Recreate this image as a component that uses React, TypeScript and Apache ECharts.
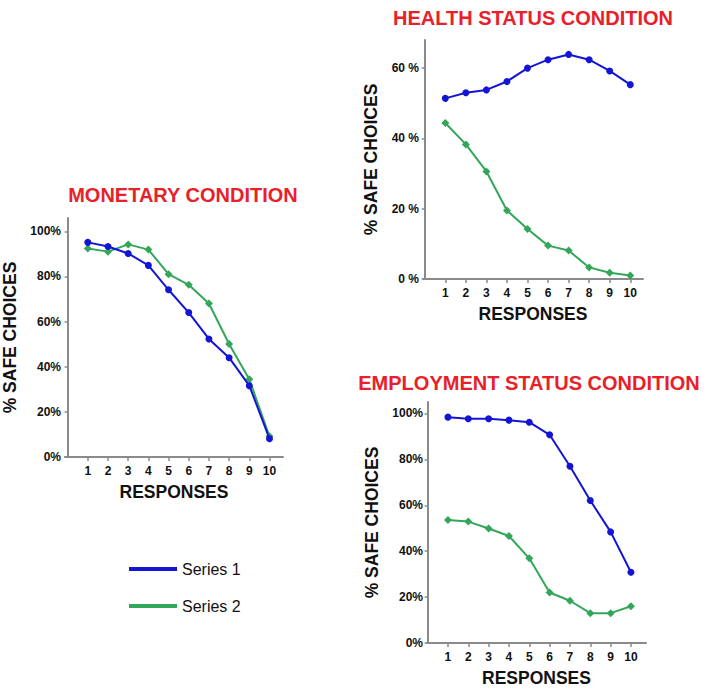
import React, { useEffect, useRef } from "react";
import * as echarts from "echarts";

const responses = [1, 2, 3, 4, 5, 6, 7, 8, 9, 10];

const monetarySeries1 = [95.1, 93.3, 90.2, 84.9, 74.1, 64.0, 52.3, 44.0, 31.6, 8.1];
const monetarySeries2 = [92.4, 91.0, 94.2, 91.9, 81.0, 76.3, 68.0, 50.1, 34.4, 9.2];

const healthSeries1 = [51.4, 53.0, 53.8, 56.2, 60.0, 62.4, 63.9, 62.4, 59.2, 55.3];
const healthSeries2 = [44.4, 38.3, 30.6, 19.5, 14.2, 9.5, 8.1, 3.3, 1.8, 1.0];

const employmentSeries1 = [98.4, 97.7, 97.7, 97.1, 96.2, 90.7, 77.0, 62.1, 48.4, 30.8];
const employmentSeries2 = [53.6, 52.9, 49.9, 46.6, 36.9, 22.0, 18.4, 13.0, 13.0, 16.0];

const titles = ["MONETARY CONDITION", "HEALTH STATUS CONDITION", "EMPLOYMENT STATUS CONDITION"];
const seriesNames = ["Series 1", "Series 2"];

const BLUE = "#1414d4";
const GREEN = "#34a659";
const RED = "#e8202a";
const AXIS = "#8a8a8a";
const FONT = "Liberation Sans, Arial, sans-serif";

export default function App() {
  const ref = useRef<HTMLDivElement>(null);
  useEffect(() => {
    if (!ref.current) return;
    const chart = echarts.init(ref.current, null, { renderer: "svg" });

    const grids = [
      { left: 61, top: 218, width: 222, height: 239 },
      { left: 423, top: 40, width: 220, height: 239 },
      { left: 427, top: 402, width: 219, height: 241 },
    ];
    const xRanges = [
      [-0.13, 10.67],
      [-0.085, 10.62],
      [-0.03, 10.74],
    ];
    const yMax = [105.9, 68, 105];
    const yFmt = ["{value}%", "{value} %", "{value}%"];
    const yNameGap = [46, 43, 46];
    const data = [
      [monetarySeries1, monetarySeries2],
      [healthSeries1, healthSeries2],
      [employmentSeries1, employmentSeries2],
    ];

    const xAxis = grids.map((_, i) => ({
      type: "value",
      gridIndex: i,
      min: xRanges[i][0],
      max: xRanges[i][1],
      splitLine: { show: false },
      axisLine: { show: true, lineStyle: { color: AXIS, width: 2 } },
      axisTick: {
        show: true,
        customValues: responses,
        length: 4,
        lineStyle: { color: AXIS, width: 1.5 },
      },
      axisLabel: {
        customValues: responses,
        color: "#111",
        fontWeight: "bold",
        fontSize: 12,
        fontFamily: FONT,
        margin: 8,
      },
      name: "RESPONSES",
      nameLocation: "middle",
      nameGap: 26,
      nameTextStyle: { color: "#111", fontWeight: "bold", fontSize: 17.5, fontFamily: FONT },
    }));

    const yAxis = grids.map((_, i) => ({
      type: "value",
      gridIndex: i,
      min: 0,
      max: yMax[i],
      interval: 20,
      splitLine: { show: false },
      axisLine: { show: true, lineStyle: { color: AXIS, width: 2 } },
      axisTick: { show: true, length: 3, lineStyle: { color: AXIS, width: 1.5 } },
      axisLabel: {
        formatter: yFmt[i],
        color: "#111",
        fontWeight: "bold",
        fontSize: 12,
        fontFamily: FONT,
        margin: 4,
        showMaxLabel: false,
      },
      name: "% SAFE CHOICES",
      nameLocation: "middle",
      nameGap: yNameGap[i],
      nameRotate: 90,
      nameTextStyle: { color: "#111", fontWeight: "bold", fontSize: 17.5, fontFamily: FONT },
    }));

    const series: any[] = [];
    data.forEach((pair, i) => {
      pair.forEach((vals, s) => {
        series.push({
          type: "line",
          name: seriesNames[s],
          xAxisIndex: i,
          yAxisIndex: i,
          data: responses.map((r, k) => [r, vals[k]]),
          symbol: s === 0 ? "circle" : "diamond",
          symbolSize: s === 0 ? 7 : 8,
          lineStyle: { color: s === 0 ? BLUE : GREEN, width: 2 },
          itemStyle: { color: s === 0 ? BLUE : GREEN },
          z: s === 0 ? 3 : 2,
        });
      });
    });

    const titleOpts = [
      { text: titles[0], left: 178, top: 180 },
      { text: titles[1], left: 528, top: 3 },
      { text: titles[2], left: 524, top: 368 },
    ].map((t) => ({
      text: t.text,
      left: t.left,
      top: t.top,
      textAlign: "center",
      textStyle: { color: RED, fontWeight: "bold", fontSize: 20, fontFamily: FONT },
    }));

    chart.setOption({
      animation: false,
      backgroundColor: "#fff",
      title: titleOpts,
      grid: grids,
      xAxis,
      yAxis,
      series,
      legend: {
        orient: "vertical",
        left: 124,
        top: 556,
        itemGap: 21,
        itemWidth: 48,
        itemHeight: 4,
        icon: "rect",
        data: seriesNames.map((n, k) => ({
          name: n,
          itemStyle: { color: k === 0 ? BLUE : GREEN },
        })),
        textStyle: { color: "#111", fontSize: 16, fontFamily: FONT },
      },
    });
    return () => chart.dispose();
  }, []);
  return (
    <div
      ref={ref}
      style={{ position: "fixed", left: 0, top: 0, width: 708, height: 695 }}
    />
  );
}
